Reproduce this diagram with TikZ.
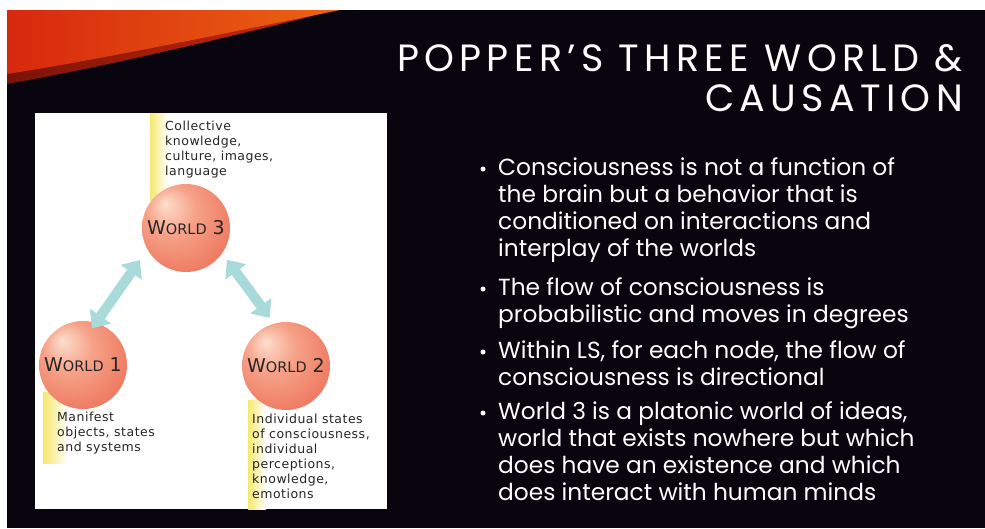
\documentclass[tikz,border=0pt]{standalone}
\usepackage{fontspec}
\setmainfont{Poppins}
\newfontfamily\panelfont[LetterSpace=4]{DejaVu Sans}
\newfontfamily\worldfont{DejaVu Sans}
\newfontfamily\titlefont[LetterSpace=14]{Poppins}
\usetikzlibrary{arrows.meta}
\definecolor{slidebg}{RGB}{8,5,14}
\definecolor{swooshred}{RGB}{214,40,14}
\definecolor{swooshorange}{RGB}{236,100,18}
\definecolor{swooshdark}{RGB}{120,20,8}
\definecolor{spherelight}{RGB}{253,222,206}
\definecolor{spheremid}{RGB}{246,162,136}
\definecolor{spheredark}{RGB}{236,112,88}
\definecolor{arrowteal}{RGB}{168,218,218}
\definecolor{stripe}{RGB}{246,232,110}
\pgfdeclareradialshading{sphere}{\pgfpoint{-12bp}{14bp}}{color(0bp)=(spherelight);
  color(14bp)=(spheremid); color(36bp)=(spheredark); color(44bp)=(spheredark!60!white); color(50bp)=(white)}
\tikzstyle{world}=[circle, minimum size=88pt, inner sep=0pt, shading=sphere, font=\worldfont\fontsize{19}{19}\selectfont, text=black!85]
\tikzstyle{link}=[arrowteal, line width=10pt, {Triangle[width=25pt,length=15pt]}-{Triangle[width=25pt,length=15pt]}]
\tikzstyle{note}=[anchor=north west, inner sep=0pt, align=left, text=black!85, font=\panelfont\fontsize{12.5}{15}\selectfont]
\tikzstyle{point}=[anchor=north west, inner sep=0pt, align=left, text=white, font=\fontsize{23.3}{27}\selectfont]
\tikzstyle{dot}=[circle, fill=white, minimum size=5pt, inner sep=0pt]
\newcommand{\worldlabel}[1]{W{\fontsize{14.5}{14.5}\selectfont ORLD} #1}

\begin{document}
\begin{tikzpicture}[x=1pt,y=-1pt]
    \useasboundingbox (0,0) rectangle (985,528);
    \fill[white] (0,0) rectangle (985,528);
    \fill[slidebg] (7,10) rectangle (985,528);
    \shade[left color=swooshdark, right color=swooshred] (7,10) -- (335,10) .. controls (250,32) and (110,66) .. (7,84) -- cycle;
    \shade[left color=swooshred, right color=swooshorange] (7,10) -- (340,10) .. controls (250,28) and (110,58) .. (7,74) -- cycle;
    \fill[white] (35,113) rectangle (387,509);
    \shade[left color=stripe, right color=white] (150,113) rectangle (168,200);
    \shade[left color=stripe, right color=white] (43,392) rectangle (68,463);
    \shade[left color=stripe, right color=white] (248,400) rectangle (266,509);
    \node[world] (w3) at (186,228) {\worldlabel{3}};
    \node[world] (w1) at (83,365) {\worldlabel{1}};
    \node[world] (w2) at (286,366) {\worldlabel{2}};
    \draw[link, shorten <=-7pt, shorten >=13pt] (w1.73) -- (w3.209);
    \draw[link, shorten <=8pt, shorten >=7pt] (w3.325) -- (w2.106);
    \node[note] (n3) at (165,121) {Collective\\knowledge,\\culture, images,\\language};
    \node[note] (n1) at (57,412) {Manifest\\objects, states\\and systems};
    \node[note] (n2) at (252,414) {Individual states\\of consciousness,\\individual\\perceptions,\\knowledge,\\emotions};
    \node[anchor=north east, align=right, inner sep=0pt, text=white, font=\titlefont\fontsize{38}{40}\selectfont] (title) at (963,44) {POPPER’S THREE WORLD \&\\CAUSATION};
    \node[point] (b1) at (498,157) {Consciousness is not a function of\\the brain but a behavior that is\\conditioned on interactions and\\interplay of the worlds};
    \node[point] (b2) at (498,277) {The flow of consciousness is\\probabilistic and moves in degrees};
    \node[point] (b3) at (498,340) {Within LS, for each node, the flow of\\consciousness is directional};
    \node[point] (b4) at (498,401) {World 3 is a platonic world of ideas,\\world that exists nowhere but which\\does have an existence and which\\does interact with human minds};
    \node[dot] (d1) at (483,169) {};
    \node[dot] (d2) at (483,289) {};
    \node[dot] (d3) at (483,352) {};
    \node[dot] (d4) at (483,413) {};
\end{tikzpicture}
\end{document}
